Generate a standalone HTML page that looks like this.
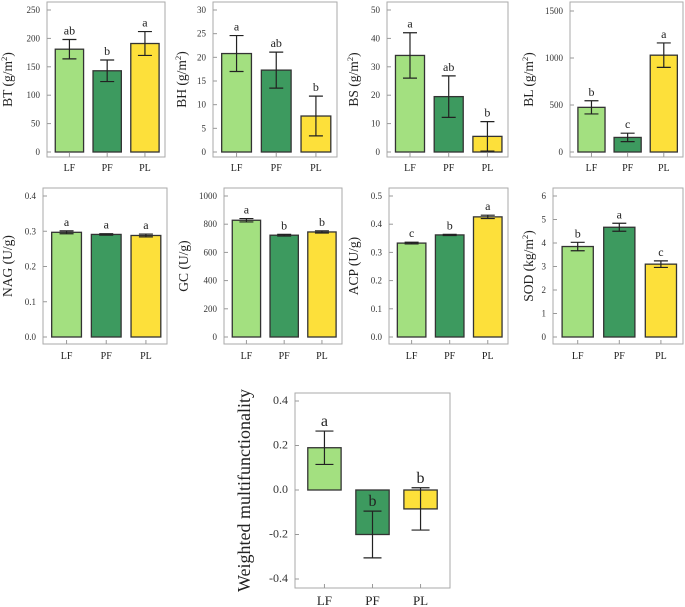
<!DOCTYPE html>
<html><head><meta charset="utf-8"><style>
html,body{margin:0;padding:0;background:#fff;}
svg{display:block;font-family:"Liberation Serif",serif;}
</style></head><body>
<svg id="fig" width="685" height="607" viewBox="0 0 685 607" xmlns="http://www.w3.org/2000/svg"></svg>
<script>
const categories = ["LF","PF","PL"];
const colors = ["#a3e080","#3d9a5f","#fde03a"];
const btMeans=[181,143,191], btErr=[17,19,21], btLetters=["ab","b","a"], btTicks=[0,50,100,150,200,250];
const bhMeans=[20.8,17.3,7.6], bhErr=[3.8,3.8,4.2], bhLetters=["a","ab","b"], bhTicks=[0,5,10,15,20,25,30];
const bsMeans=[34,19.5,5.5], bsErr=[8,7.3,5.2], bsLetters=["a","ab","b"], bsTicks=[0,10,20,30,40,50];
const blMeans=[475,155,1030], blErr=[70,45,130], blLetters=["b","c","a"], blTicks=[0,500,1000,1500];
const nagMeans=[0.297,0.291,0.288], nagErr=[0.004,0.002,0.004], nagLetters=["a","a","a"], nagTicks=["0.0","0.1","0.2","0.3","0.4"];
const gcMeans=[828,722,745], gcErr=[12,6,8], gcLetters=["a","b","b"], gcTicks=[0,200,400,600,800,1000];
const acpMeans=[0.333,0.362,0.426], acpErr=[0.003,0.002,0.006], acpLetters=["c","b","a"], acpTicks=["0.0","0.1","0.2","0.3","0.4","0.5"];
const sodMeans=[3.85,4.67,3.1], sodErr=[0.18,0.17,0.14], sodLetters=["b","a","c"], sodTicks=[0,1,2,3,4,5,6];
const wmfMeans=[0.19,-0.2,-0.085], wmfErr=[0.075,0.105,0.095], wmfLetters=["a","b","b"], wmfTicks=["-0.4","-0.2","0.0","0.2","0.4"];

const NS="http://www.w3.org/2000/svg";
const svg=document.getElementById('fig');
function mk(tag,attrs,parent){const e=document.createElementNS(NS,tag);for(const k in attrs)e.setAttribute(k,attrs[k]);(parent||svg).appendChild(e);return e;}

function panel(o){
  const g=mk('g',{});
  
  
  const ticks=o.ticks.map(Number);
  const vmin=ticks[0], vmax=ticks[ticks.length-1];
  const y=v=>o.y0+(v-vmin)/(vmax-vmin)*(o.y1-o.y0);
  const w=o.right-o.left;
  const xc=i=>o.left+w*(o.c0+o.step*i);
  const bw=w*o.bw;
  const box=mk('rect',{x:o.left,y:o.top,width:w,height:o.bottom-o.top,fill:'none',stroke:'#aaa','stroke-width':1},g);
  
  
  o.ticks.forEach(t=>{
    const yy=y(Number(t));
    mk('line',{x1:o.left,x2:o.left+4,y1:yy,y2:yy,stroke:'#999','stroke-width':1},g);
    const tx=mk('text',{x:o.left-7,y:yy+3,'font-size':o.tf,'text-anchor':'end',fill:'#333'},g);
    tx.textContent=t;
    
    
  });
  const zero=y(0);
  categories.forEach((c,i)=>{
    const cx=xc(i), m=o.means[i], e=o.err[i];
    const top=Math.min(y(m),zero), h=Math.abs(y(m)-zero);
    const r=mk('rect',{x:cx-bw/2,y:top,width:bw,height:h,fill:colors[i],stroke:'#333','stroke-width':1.3},g);
    
    
    const ya=y(m+e), yb=y(m-e), cap=o.cap;
    const eb=mk('path',{d:`M${cx},${ya}V${yb}M${cx-cap},${ya}H${cx+cap}M${cx-cap},${yb}H${cx+cap}`,stroke:'#222','stroke-width':1.2,fill:'none'},g);
    
    
    const ly=(m>=0?Math.min(ya,y(m)):ya)-5;
    const lt=mk('text',{x:cx,y:ly,'font-size':o.lf,'text-anchor':'middle',fill:'#222'},g);
    lt.textContent=o.letters[i];
    
    
    mk('line',{x1:cx,x2:cx,y1:o.bottom,y2:o.bottom-4,stroke:'#999','stroke-width':1},g);
    const xl=mk('text',{x:cx,y:o.xly,'font-size':o.xf,'text-anchor':'middle',fill:'#222'},g);
    xl.textContent=c;
    
    
  });
  const cy=(o.top+o.bottom)/2;
  const yl=mk('text',{x:o.ylx,y:cy,'font-size':o.yf,'text-anchor':'middle',fill:'#222',transform:`rotate(-90 ${o.ylx} ${cy})`},g);
  
  
  if(o.sup){
    const a=mk('tspan',{},yl);a.textContent=o.label;
    const s=mk('tspan',{'font-size':o.yf*0.65,dy:-5},yl);s.textContent='2';
    const b=mk('tspan',{dy:5},yl);b.textContent=')';
  } else yl.textContent=o.label;
}
const topRow={top:2,bottom:157,y0:152,y1:10,c0:0.19,step:0.32,bw:0.24,cap:7,tf:9,lf:12,xf:10,yf:13.5,xly:171};
const midRow={top:188,bottom:344,y0:337,y1:196,c0:0.19,step:0.32,bw:0.24,cap:7,tf:9,lf:12,xf:10,yf:13.5,xly:359};
panel(Object.assign({},topRow,{name:'bt',left:47,right:165,means:btMeans,err:btErr,letters:btLetters,ticks:btTicks,label:'BT (g/m',sup:true,ylx:12}));
panel(Object.assign({},topRow,{name:'bh',left:213,right:337,means:bhMeans,err:bhErr,letters:bhLetters,ticks:bhTicks,label:'BH (g/m',sup:true,ylx:186}));
panel(Object.assign({},topRow,{name:'bs',left:387,right:508,means:bsMeans,err:bsErr,letters:bsLetters,ticks:bsTicks,label:'BS (g/m',sup:true,ylx:358}));
panel(Object.assign({},topRow,{name:'bl',left:570,right:683,y1:11,means:blMeans,err:blErr,letters:blLetters,ticks:blTicks,label:'BL (g/m',sup:true,ylx:533}));
panel(Object.assign({},midRow,{name:'nag',left:43,right:167,means:nagMeans,err:nagErr,letters:nagLetters,ticks:nagTicks,label:'NAG (U/g)',ylx:12}));
panel(Object.assign({},midRow,{name:'gc',left:224,right:342,means:gcMeans,err:gcErr,letters:gcLetters,ticks:gcTicks,label:'GC (U/g)',ylx:188}));
panel(Object.assign({},midRow,{name:'acp',left:389,right:508,means:acpMeans,err:acpErr,letters:acpLetters,ticks:acpTicks,label:'ACP (U/g)',ylx:358}));
panel(Object.assign({},midRow,{name:'sod',left:553,right:683,means:sodMeans,err:sodErr,letters:sodLetters,ticks:sodTicks,label:'SOD (kg/m',sup:true,ylx:533}));
panel({name:'wmf',top:393,bottom:588,y0:579,y1:401,left:295,right:450,c0:0.19,step:0.31,bw:0.215,cap:9,tf:12,lf:16,xf:13,yf:18,xly:605,
  means:wmfMeans,err:wmfErr,letters:wmfLetters,ticks:wmfTicks,label:'Weighted multifunctionality',ylx:250});
</script>
</body></html>
